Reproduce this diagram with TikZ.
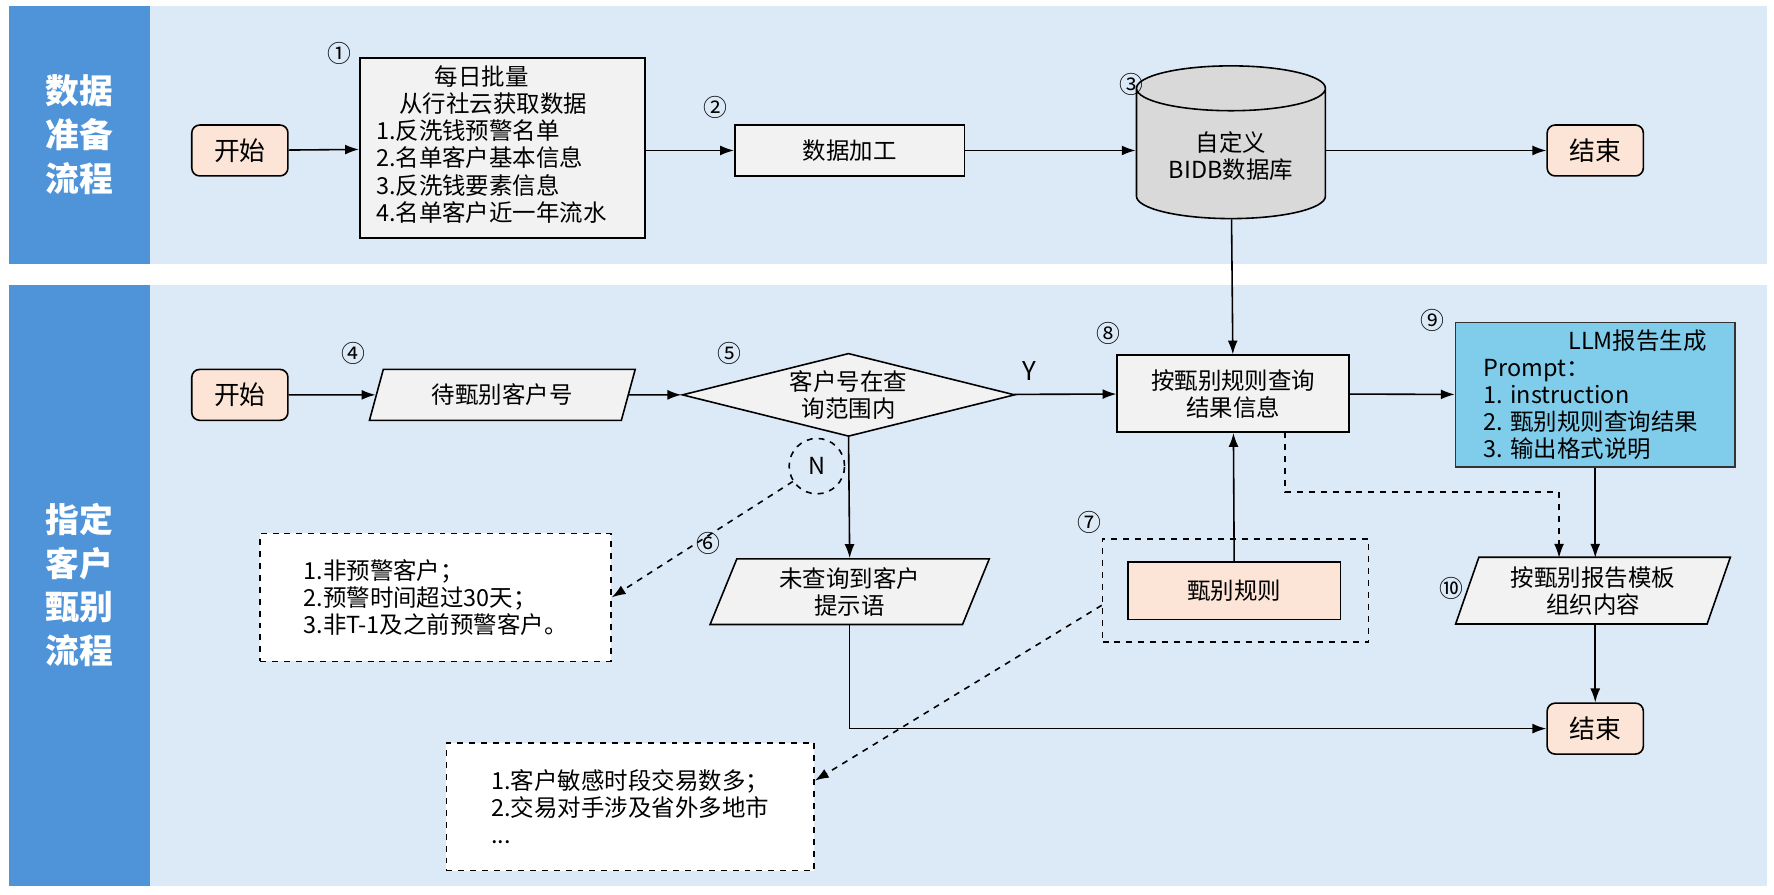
\documentclass[tikz,border=0pt]{standalone}
\usepackage{fontspec}
\setmainfont{Noto Sans CJK SC}
\usetikzlibrary{shapes.geometric,arrows.meta}
\definecolor{dband}{HTML}{4F94D8}
\definecolor{lband}{HTML}{DCE9F6}
\definecolor{peach}{HTML}{FCE4D6}
\definecolor{lgray}{HTML}{F2F2F2}
\definecolor{sky}{HTML}{7FCCEB}
\begin{document}
\begin{tikzpicture}[x=0.02cm,y=-0.02cm,font=\fontsize{11.8}{13.6}\selectfont,
  sz/.style 2 args={minimum width=#1*0.02cm,minimum height=#2*0.02cm,inner sep=1pt},
  box/.style={draw,thick,fill=lgray,align=center},
  term/.style={draw,thick,fill=peach,rounded corners=4pt,sz={85}{45},font=\fontsize{13}{15}\selectfont},
  para/.style={draw,thick,fill=lgray,trapezium,trapezium left angle=72,trapezium right angle=108,trapezium stretches=true,align=center},
  arr/.style={-{Latex[length=7pt,width=5pt]},thick},
  darr/.style={-{Latex[length=7pt,width=5pt]},thick,dashed},
  dbox/.style={draw,thick,dashed,fill=white,align=left},
  num/.style={font=\fontsize{12}{14}\selectfont},
  band/.style={text=white,font=\fontsize{17}{22}\selectfont\bfseries,align=center}]
\useasboundingbox (0,0) rectangle (1568,791);
\fill[dband] (8,5) rectangle (133,233);
\fill[lband] (133,5) rectangle (1562,233);
\fill[dband] (8,252) rectangle (133,783);
\fill[lband] (133,252) rectangle (1562,783);
\node[band] (b1) at (70,119) {数据\\准备\\流程};
\node[band] (b2) at (70,517) {指定\\客户\\甄别\\流程};
% top row
\node[term] (s1) at (212,133) {开始};
\node[box,sz={252}{159}] (d1) at (444,131) {};
\node[align=left,anchor=north west,inner sep=0pt] (d1t) at (332,58) {\hspace*{2.5em}每日批量\\\hspace*{1em}从行社云获取数据\\1.反洗钱预警名单\\2.名单客户基本信息\\3.反洗钱要素信息\\4.名单客户近一年流水};
\node[box,sz={203}{45}] (d2) at (751,133) {数据加工};
\node[cylinder,shape border rotate=90,draw,thick,fill=gray!30,aspect=0.35,sz={167}{135},align=center] (db) at (1088,138) {自定义\\BIDB数据库};
\node[term] (e1) at (1410,133) {结束};
\node[num] (n1) at (300,47) {①};
\node[num] (n2) at (632,95) {②};
\node[num] (n3) at (1000,75) {③};
\draw[arr] (s1) -- (d1);
\draw[arr] (d1.east|-d2) -- (d2);
\draw[arr] (d2) -- (db.west|-d2);
\draw[arr] (db.east|-e1) -- (e1);
% bottom
\node[term] (s2) at (212,349) {开始};
\node[para,sz={235}{45}] (p4) at (444,349) {待甄别客户号};
\node[diamond,draw,thick,fill=lgray,aspect=4,sz={280}{70},align=center] (dm) at (750,349) {客户号在查\\询范围内};
\node[box,sz={205}{68}] (b8) at (1090,348) {按甄别规则查询\\结果信息};
\node[draw=black!80,thick,fill=sky,sz={247}{128},align=left] (b9) at (1410,349) {\hspace*{3.6em}LLM报告生成\\Prompt：\\1. instruction\\2. 甄别规则查询结果\\3. 输出格式说明};
\node[num] (n4) at (312,312) {④};
\node[num] (n5) at (645,312) {⑤};
\node[num] (n8) at (980,295) {⑧};
\node[num] (n9) at (1266,283) {⑨};
\node[font=\fontsize{13}{15}\selectfont] (ly) at (910,328) {Y};
\draw[arr] (s2) -- (p4);
\draw[arr] (p4) -- (dm);
\draw[arr] (dm) -- (b8);
\draw[arr] (b8) -- (b9);
\draw[arr] (db) -- (b8);
\node[circle,draw,thick,dashed,minimum size=0.98cm,inner sep=0pt] (cn) at (722,412) {N};
\node[dbox,sz={310}{113}] (x1) at (385,528) {1.非预警客户；\\2.预警时间超过30天；\\3.非T-1及之前预警客户。};
\draw[darr] (cn) -- (x1.east);
\node[para,sz={247}{58}] (p6) at (751,523) {未查询到客户\\提示语};
\node[num] (n6) at (626,480) {⑥};
\draw[arr] (dm.south) -- (p6.north);
\node[draw,thick,dashed,sz={235}{91}] (g7) at (1092,522) {};
\node[draw,thick,fill=peach,sz={188}{51}] (r7) at (1091,522) {甄别规则};
\node[num] (n7) at (963,462) {⑦};
\draw[arr] (r7) -- (b8);
\node[para,sz={243}{59}] (p10) at (1408,522) {按甄别报告模板\\组织内容};
\node[num] (n10) at (1283,520) {⑩};
\draw[arr] (b9.south-|1410,0) -- (1410,493);
\coordinate (c1) at (1136,382);
\draw[darr] (c1) -- (1136,435) -- (1378,435) -- (1378,493);
\node[term] (e2) at (1410,644) {结束};
\draw[arr] (p10.south-|1410,0) -- (e2);
\draw[arr] (p6.south) |- (e2.west);
\node[dbox,sz={325}{113}] (x2) at (557,713) {1.客户敏感时段交易数多；\\2.交易对手涉及省外多地市\\...};
\draw[darr] (g7.west|-1092,535) -- (x2.east|-0,690);
\end{tikzpicture}
\end{document}
